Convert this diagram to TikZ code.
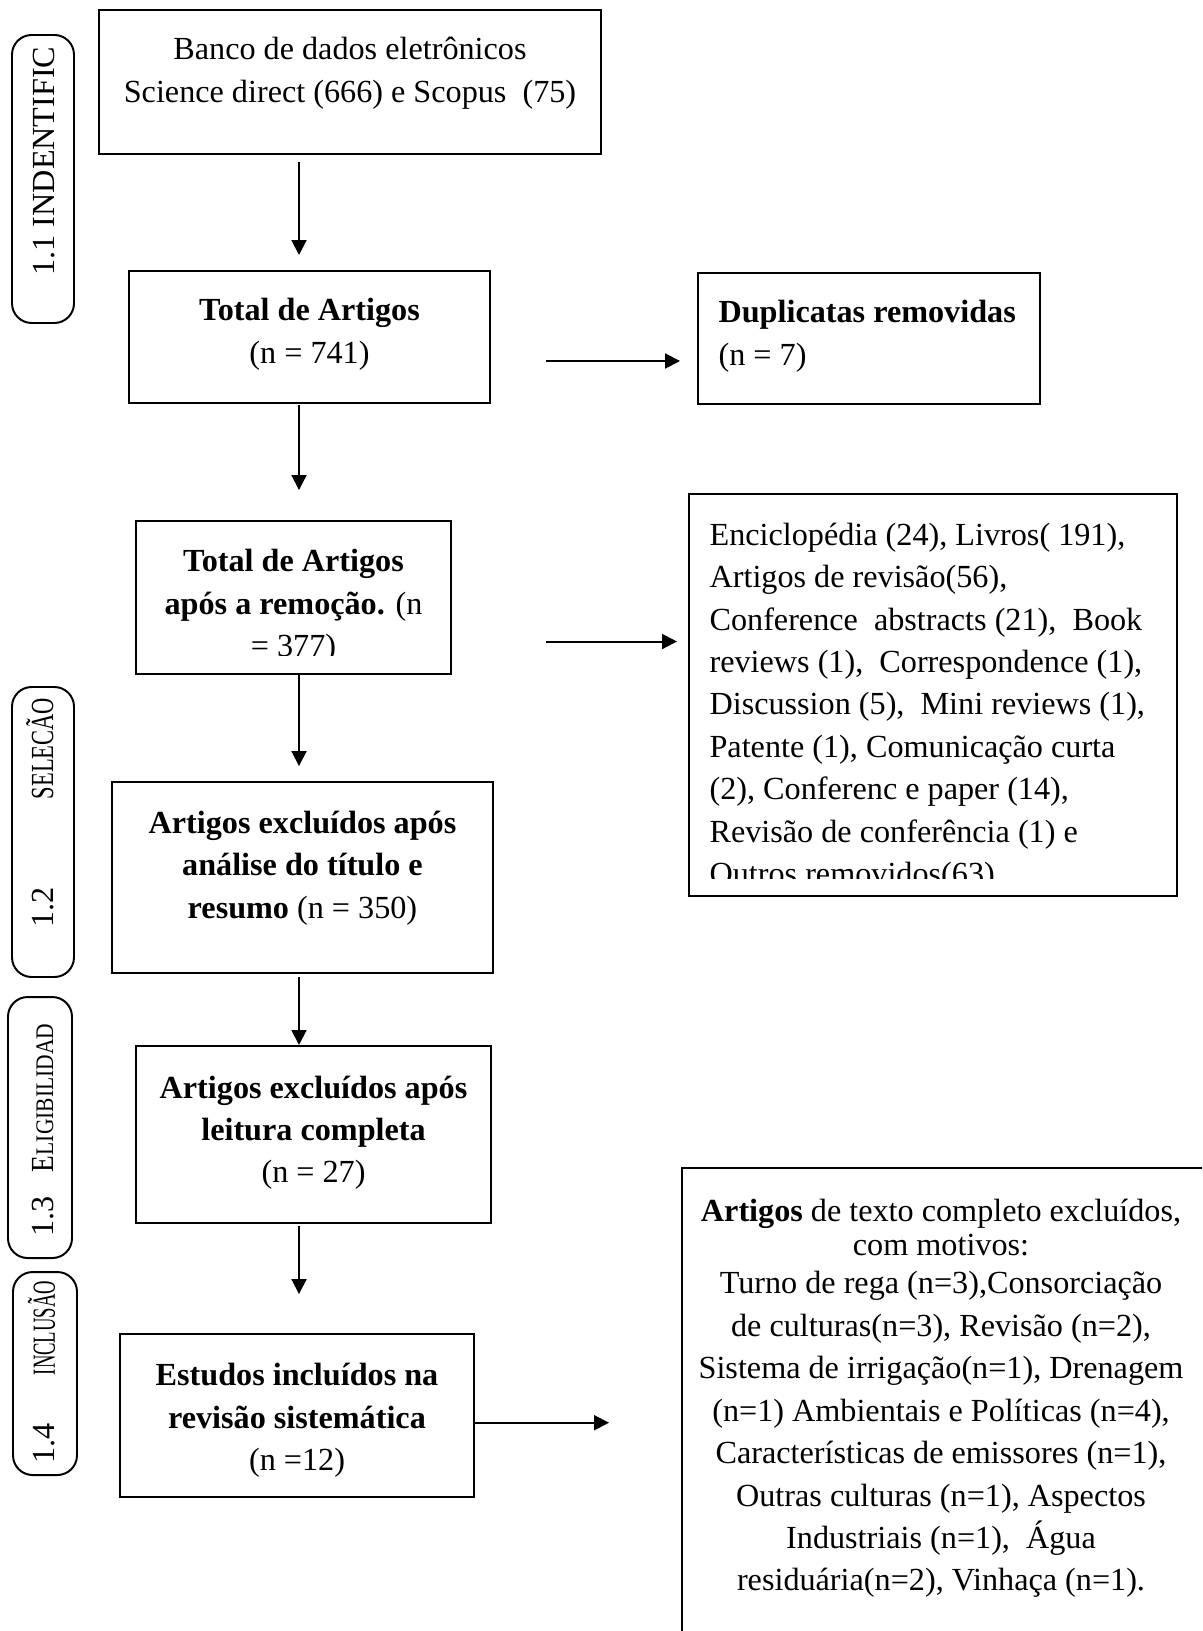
\documentclass[tikz,border=0pt]{standalone}
\usepackage{fontspec}
\setmainfont{Liberation Serif}
\usepackage{graphicx}
\usetikzlibrary{arrows.meta,calc,positioning}
\tikzset{
    prisma diagram/.style = {>={Triangle[length=5.3pt, width=5.3pt]}},
    frame/.style  = {draw, line width=0.7pt, inner sep=0pt},
    phase/.style  = {draw, line width=0.7pt, rounded corners=7pt,
                     inner sep=0pt},
    txt/.style    = {inner sep=0pt, align=center, anchor=north,
                     font=\fontsize{11.45}{15.1}\selectfont,
                     execute at begin node=\strut},
    ltxt/.style   = {txt, align=left},
    tag/.style    = {inner sep=0pt, rotate=90, anchor=base west,
                     font=\fontsize{11.45}{14.84}\selectfont},
    flow/.style   = {->, line width=0.7pt}
}

\begin{document}
\begin{tikzpicture}[prisma diagram]

\useasboundingbox (0,0) rectangle (15.025,-20.3875);
\clip (0,0) rectangle (15.025,-20.3875);

% Main column of the flow
\node[frame, minimum width=6.275cm, minimum height=1.8cm]
    (bank) at (4.375,-1.025) {};
\node[frame, minimum width=4.5125cm, minimum height=1.65cm]
    (total) at (3.869,-4.2125) {};
\node[frame, minimum width=3.9375cm, minimum height=1.9125cm]
    (after) at (3.669,-7.469) {};
\node[frame, minimum width=4.7625cm, minimum height=2.3875cm]
    (abstract) at (3.781,-10.969) {};
\node[frame, minimum width=4.4375cm, minimum height=2.2125cm]
    (fulltext) at (3.919,-14.181) {};
\node[frame, minimum width=4.425cm, minimum height=2.0375cm]
    (incl) at (3.7125,-17.694) {};

% Boxes of removed records
\node[frame, minimum width=4.275cm, minimum height=1.6375cm]
    (dup) at (10.8625,-4.231) {};
\node[frame, minimum width=6.1cm, minimum height=5.025cm]
    (enc) at (11.6625,-8.6875) {};
\node[frame, minimum width=7.225cm, minimum height=6.65cm]
    (reasons) at (12.1375,-17.925) {};

% Texts of the boxes
\node[txt, below=0.35cm of bank.north] (bank-t)
    {Banco de dados eletrônicos\\Science direct (666) e Scopus~ (75)};
\node[txt, below=0.35cm of total.north] (total-t)
    {\textbf{Total de Artigos}\\(n = 741)};
\node[ltxt, anchor=north west, below right=0.35cm and 0.2625cm of dup.north west]
    (dup-t) {\textbf{Duplicatas removidas}\\(n = 7)};
\begin{scope}
    \clip (after.north west) rectangle ([yshift=0.25cm]after.south east);
    \node[txt, below=0.3625cm of after.north] (after-t)
        {\textbf{Total de Artigos}\\\textbf{após a remoção.} (n\\= 377)};
\end{scope}
\begin{scope}
    \clip (enc.north west) rectangle ([yshift=0.23cm]enc.south east);
    \node[ltxt, anchor=north west, below right=0.365cm and 0.2625cm of enc.north west]
        (enc-t) {Enciclopédia (24), Livros( 191),\\
                 Artigos de revisão(56),\\
                 Conference~ abstracts (21),~ Book\\
                 reviews (1),~ Correspondence (1),\\
                 Discussion (5),~ Mini reviews (1),\\
                 Patente (1), Comunicação curta\\
                 (2), Conferenc e paper (14),\\
                 Revisão de conferência (1) e\\
                 Outros removidos(63)};
\end{scope}
\node[txt, below=0.364cm of abstract.north] (abstract-t)
    {\textbf{Artigos excluídos após}\\\textbf{análise do título e}\\
     \textbf{resumo} (n = 350)};
\node[txt, below=0.376cm of fulltext.north] (fulltext-t)
    {\textbf{Artigos excluídos após}\\\textbf{leitura completa}\\(n = 27)};
\node[txt, below=0.375cm of incl.north] (incl-t)
    {\textbf{Estudos incluídos na}\\\textbf{revisão sistemática}\\(n =12)};
\node[txt] (reasons-t) at ($(reasons.north west)+(3.25,-0.40)$)
    {\textbf{Artigos} de texto completo excluídos,\\[-0.114cm]
     com motivos:\\[-0.05cm]
     Turno de rega (n=3),Consorciação\\
     de culturas(n=3), Revisão (n=2),\\
     Sistema de irrigação(n=1), Drenagem\\
     (n=1) Ambientais e Políticas (n=4),\\
     Características de emissores (n=1),\\
     Outras culturas (n=1), Aspectos\\
     Industriais (n=1),~ Água\\
     residuária(n=2), Vinhaça (n=1).};

% Vertical arrows along one spine
\coordinate (spine) at (3.7375,0);
\draw[flow, shorten <=0.09cm, shorten >=0.1875cm]
    (bank.south -| spine) -- (total.north -| spine);
\draw[flow, shorten <=0.0125cm, shorten >=0.375cm]
    (total.south -| spine) -- (after.north -| spine);
\draw[flow, shorten >=0.1875cm]
    (after.south -| spine) -- (abstract.north -| spine);
\draw[flow, shorten <=0.0375cm]
    (abstract.south -| spine) -- (fulltext.north -| spine);
\draw[flow, shorten <=0.025cm, shorten >=0.4875cm]
    (fulltext.south -| spine) -- (incl.north -| spine);

% Side arrows to the removed records
\draw[flow, shorten <=0.6875cm, shorten >=0.2125cm]
    ([yshift=-0.3cm]total.east) -- ([yshift=-0.3cm]total.east -| dup.west);
\draw[flow, shorten <=1.175cm, shorten >=0.1375cm]
    ([yshift=-0.55cm]after.east) -- ([yshift=-0.55cm]after.east -| enc.west);
\draw[flow, shorten >=0.9cm]
    ([yshift=-0.09cm]incl.east) -- ([yshift=-0.09cm]incl.east -| reasons.west);

% Phase labels on the left
\node[phase, minimum width=0.775cm, minimum height=3.6cm]
    (phase1) at (0.5375,-2.2375) {};
\node[phase, minimum width=0.775cm, minimum height=3.625cm]
    (phase2) at (0.5375,-10.4) {};
\node[phase, minimum width=0.8cm, minimum height=3.2625cm]
    (phase3) at (0.5,-14.094) {};
\node[phase, minimum width=0.8cm, minimum height=2.5375cm]
    (phase4) at (0.5625,-17.169) {};

\node[tag] (phase1-t) at (0.6875,-3.45) {1.1 INDENTIFIC};
\node[tag] (phase2-t) at (0.6625,-11.6)
    {1.2\hspace{1.1cm}\scalebox{0.7}[1]{SELECÃO}};
\node[tag] (phase3-t) at (0.6625,-15.46)
    {1.3\hspace{0.3cm}\scalebox{0.85}[1]{E{\fontsize{9}{11}\selectfont LIGIBILIDAD}}};
\node[tag] (phase4-t) at (0.6875,-18.3)
    {1.4\hspace{0.6cm}\scalebox{0.58}[1]{INCLUSÃO}};

\end{tikzpicture}
\end{document}
